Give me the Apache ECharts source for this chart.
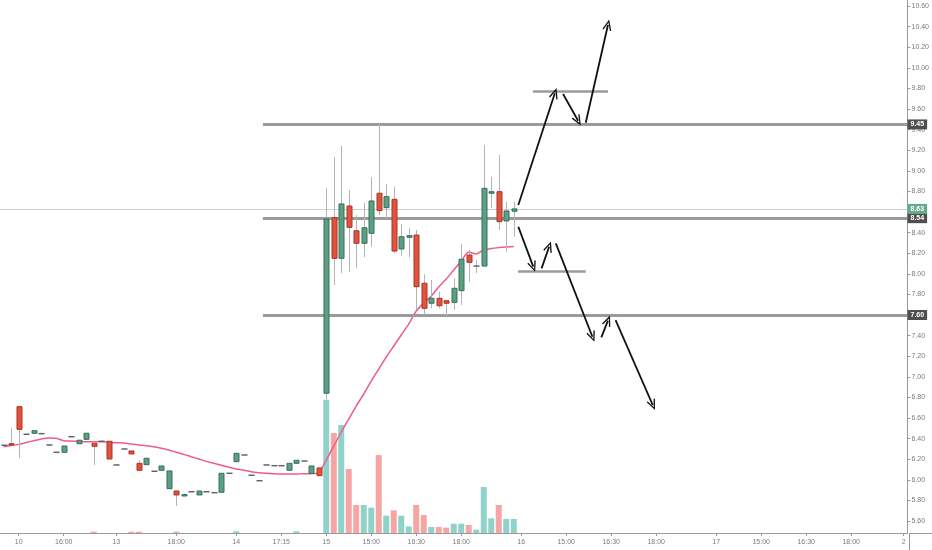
<!DOCTYPE html>
<html><head><meta charset="utf-8">
<script src="https://cdn.jsdelivr.net/npm/echarts@6/dist/echarts.min.js"></script>
<style>html,body{margin:0;padding:0;background:#fff}#c{width:932px;height:550px}</style>
</head><body><div id="c"></div><script>
// x-axis tick labels (one slot per bar; '' = no label)
const xLabelAt = {2:'10',8:'16:00',15:'13',23:'18:00',31:'14',37:'17:15',43:'15',49:'15:00',55:'16:30',61:'18:00',69:'16',75:'15:00',81:'16:30',87:'18:00',95:'17',101:'15:00',107:'16:30',113:'18:00',120:'2'};
const SLOTS = 121;
const categories = Array.from({length:SLOTS},(_,i)=> xLabelAt[i] || '');

const opens = [6.328,6.350,6.710,6.442,6.452,6.448,6.338,6.267,6.267,6.418,
6.350,6.393,6.354,6.374,6.374,6.144,6.299,6.280,6.160,6.147,
6.083,6.092,5.914,5.891,5.843,5.884,5.853,5.884,5.875,5.879,
6.063,6.176,6.241,6.044,5.991,6.144,6.137,6.137,6.092,6.160,
6.182,6.063,6.115,6.840,8.545,8.150,8.658,8.418,8.296,8.393,
8.782,8.642,8.723,8.241,8.354,8.376,7.908,7.714,7.762,7.739,
7.723,7.836,8.182,8.075,8.075,8.782,8.797,8.513,8.607];
const closes = [6.335,6.338,6.490,6.442,6.477,6.448,6.338,6.267,6.328,6.418,
6.384,6.452,6.325,6.374,6.202,6.144,6.299,6.251,6.092,6.209,
6.083,6.134,6.086,5.853,5.856,5.884,5.891,5.884,5.875,6.063,
6.063,6.257,6.241,6.044,5.991,6.144,6.137,6.137,6.160,6.189,
6.182,6.134,6.040,8.532,8.150,8.678,8.451,8.296,8.447,8.707,
8.613,8.749,8.221,8.360,8.370,7.875,7.665,7.762,7.690,7.714,
7.859,8.141,8.111,8.075,8.830,8.797,8.506,8.610,8.630];
const lows = [6.328,6.335,6.209,6.442,6.452,6.448,6.338,6.267,6.267,6.418,
6.350,6.393,6.144,6.374,6.202,6.144,6.299,6.251,6.092,6.147,
6.083,6.092,5.914,5.746,5.843,5.884,5.853,5.884,5.875,5.879,
6.063,6.176,6.241,6.044,5.991,6.144,6.137,6.137,6.092,6.160,
6.182,6.063,6.040,6.781,7.891,8.005,8.020,8.054,8.160,8.263,
8.571,8.539,8.200,8.173,8.160,7.648,7.600,7.665,7.668,7.590,
7.648,7.697,7.923,8.005,8.075,8.636,8.425,8.215,8.360];
const highs = [6.335,6.503,6.710,6.442,6.477,6.448,6.338,6.267,6.328,6.418,
6.384,6.452,6.354,6.374,6.374,6.144,6.299,6.280,6.189,6.209,
6.083,6.134,6.086,5.891,5.869,5.884,5.891,5.884,5.875,6.063,
6.063,6.257,6.241,6.044,5.991,6.144,6.137,6.137,6.160,6.189,
6.182,6.134,6.115,8.830,9.131,9.241,8.814,8.571,8.690,8.937,
9.455,8.872,8.846,8.484,8.442,8.425,7.995,7.940,7.826,7.739,
7.956,8.289,8.231,8.134,9.250,8.942,9.153,8.700,8.700];
const volumes = [0,0,0,0,0,0,0,0,0,0,
0,0,1,0,0,0,0,1,1,0,
0,0,0,1,0,0,0,0,0,0,
0,1.2,0,0,0,0,0,0,0,1.2,
0,0,0,100,75,81,48,21,21,19,
58.5,13,17,13,5,21,13.5,4.5,4.5,4,
7,7,6,2.5,34.5,11,21,10.5,10.5];
const ma = [6.321,6.333,6.344,6.362,6.379,6.396,6.406,6.403,6.379,6.376,
6.374,6.370,6.370,6.370,6.364,6.360,6.357,6.347,6.338,6.331,
6.321,6.306,6.289,6.267,6.247,6.224,6.202,6.179,6.160,6.141,
6.121,6.105,6.092,6.078,6.069,6.063,6.059,6.056,6.056,6.056,
6.059,6.059,6.071,6.192,6.328,6.464,6.590,6.716,6.833,6.959,
7.075,7.192,7.299,7.406,7.512,7.639,7.716,7.784,7.872,7.949,
8.037,8.124,8.211,8.192,8.231,8.245,8.254,8.260,8.264];

// drawn levels (price) and their start slot
const levels = [9.45, 8.54, 7.60];
const levelStart = 34.56;
const lastPrice = 8.63;
const shortLevels = [[70.56, 80.56, 9.77], [68.56, 77.6, 8.02]];
// hand-drawn arrows: [slotFrom, priceFrom, slotTo, priceTo]
const arrows = [
 [68.61,8.668,73.48,9.752],
 [74.58,9.746,76.58,9.486],
 [77.60,9.467,80.56,10.416],
 [68.61,8.457,70.60,8.069],
 [71.71,8.053,72.72,8.263],
 [73.61,8.296,78.49,7.389],
 [79.68,7.383,80.56,7.545],
 [81.58,7.551,86.54,6.726]
];

const PRICE_MIN = 5.4835, PRICE_MAX = 10.658, VOL_MAX = 400;
const UP='#5d9f83', UPB='#34705a', DN='#e1533f', DNB='#a93424', WICK='#b4b4b4', DOJI='#5f6663';
const FONT = 'Liberation Sans';

const candleData = opens.map((o,i)=>[i,o,closes[i],lows[i],highs[i]]);
const volData = volumes.map((v,i)=>({value:[i,v], itemStyle:{color: closes[i]>=opens[i] ? '#8fd2c9' : '#f5a6a4'}}));
const maData = ma.map((v,i)=>[i,v]);

const ARROW = 'path://M0,10 L5,0 L10,10 L8.6,10.6 L5,3 L1.4,10.6 Z';
const mlData = [];
levels.forEach(p=>{
  mlData.push([{coord:[levelStart,p], lineStyle:{color:'#9b9b9b', width:3, type:'solid'},
    label:{show:true, position:'end', formatter:p.toFixed(2), backgroundColor:'#4f4f4f', color:'#fff', fontSize:7, fontFamily:FONT, fontWeight:'bold', padding:[2,3,1,3], distance:0}},
    {coord:[SLOTS-0.5,p]}]);
});
mlData.push([{coord:[-0.5,lastPrice], lineStyle:{color:'#cfcfcf', width:1, type:'solid'},
  label:{show:true, position:'end', formatter:lastPrice.toFixed(2), backgroundColor:'#63ab8c', color:'#fff', fontSize:7, fontFamily:FONT, fontWeight:'bold', padding:[2,3,1,3], distance:0}},
  {coord:[SLOTS-0.5,lastPrice]}]);
shortLevels.forEach(s=>{
  mlData.push([{coord:[s[0],s[2]], lineStyle:{color:'#9b9b9b', width:2.5, type:'solid'}}, {coord:[s[1],s[2]]}]);
});
arrows.forEach(a=>{
  mlData.push([{coord:[a[0],a[1]], symbol:'none', lineStyle:{color:'#111', width:1.8, type:'solid'}},
    {coord:[a[2],a[3]], symbol:ARROW, symbolSize:[9,11]}]);
});

const chart = echarts.init(document.getElementById('c'));
chart.setOption({
  animation:false,
  backgroundColor:'#ffffff',
  grid:{left:-2, right:23, top:0, bottom:17, containLabel:false},
  xAxis:[
    {type:'category', data:categories, boundaryGap:true,
     axisLine:{show:true, onZero:false, lineStyle:{color:'#9a9a9a', width:1}},
     axisTick:{show:true, alignWithLabel:true, length:3, lineStyle:{color:'#9a9a9a'}, interval:(i,v)=>v!==''},
     axisLabel:{interval:0, color:'#7a7a7a', fontSize:7, fontFamily:FONT, margin:6},
     splitLine:{show:false}},
    {type:'value', min:-0.5, max:SLOTS-0.5, show:false, axisLine:{onZero:false}, splitLine:{show:false}}
  ],
  yAxis:[
    {type:'value', position:'right', min:PRICE_MIN, max:PRICE_MAX, splitNumber:26, minInterval:0.2, maxInterval:0.2,
     axisLine:{show:true, onZero:false, lineStyle:{color:'#9a9a9a'}},
     axisTick:{show:true, length:3, lineStyle:{color:'#9a9a9a'}},
     axisLabel:{color:'#7a7a7a', fontSize:7, fontFamily:FONT, margin:4, showMinLabel:false, showMaxLabel:false, formatter:v=>v.toFixed(2)},
     splitLine:{show:false}},
    {type:'value', min:0, max:VOL_MAX, show:false, axisLine:{onZero:false}, splitLine:{show:false}}
  ],
  series:[
    {type:'bar', name:'Volume', xAxisIndex:1, yAxisIndex:1, data:volData, barWidth:6, z:1},
    {type:'line', name:'MA', xAxisIndex:1, yAxisIndex:0, data:maData, showSymbol:false, symbol:'none', smooth:0.25,
     lineStyle:{color:'#ef5b8c', width:1.5}, z:2,
     markLine:{silent:true, symbol:['none','none'], animation:false, label:{show:false}, data:mlData, z:3}},
    {type:'custom', name:'Price', xAxisIndex:1, yAxisIndex:0, data:candleData, encode:{x:0, y:[1,2,3,4]}, z:5,
     renderItem:(params, api)=>{
       const i=api.value(0), o=api.value(1), c=api.value(2), l=api.value(3), h=api.value(4);
       const pO=api.coord([i,o]), pC=api.coord([i,c]), pL=api.coord([i,l]), pH=api.coord([i,h]);
       const x=Math.round(pO[0]);
       const top=Math.min(pO[1],pC[1]), bot=Math.max(pO[1],pC[1]);
       const up=c>=o;
       const children=[];
       if (pL[1]-pH[1] > 0.5) children.push({type:'line', shape:{x1:x+0.5,y1:pH[1],x2:x+0.5,y2:pL[1]}, style:{stroke:WICK, lineWidth:1}});
       if (bot-top < 1) {
         children.push({type:'rect', shape:{x:x-2.5, y:top-0.75, width:6, height:1.5}, style:{fill:DOJI}});
       } else {
         children.push({type:'rect', shape:{x:x-2, y:top, width:5, height:bot-top}, style:{fill:up?UP:DN, stroke:up?UPB:DNB, lineWidth:1}});
       }
       return {type:'group', children};
     }}
  ],
  graphic:[
    {type:'line', shape:{x1:909.5,y1:533,x2:909.5,y2:550}, style:{stroke:'#9a9a9a', lineWidth:1}, silent:true},
    {type:'line', shape:{x1:909,y1:533.5,x2:932,y2:533.5}, style:{stroke:'#9a9a9a', lineWidth:1}, silent:true}
  ]
});
</script></body></html>
